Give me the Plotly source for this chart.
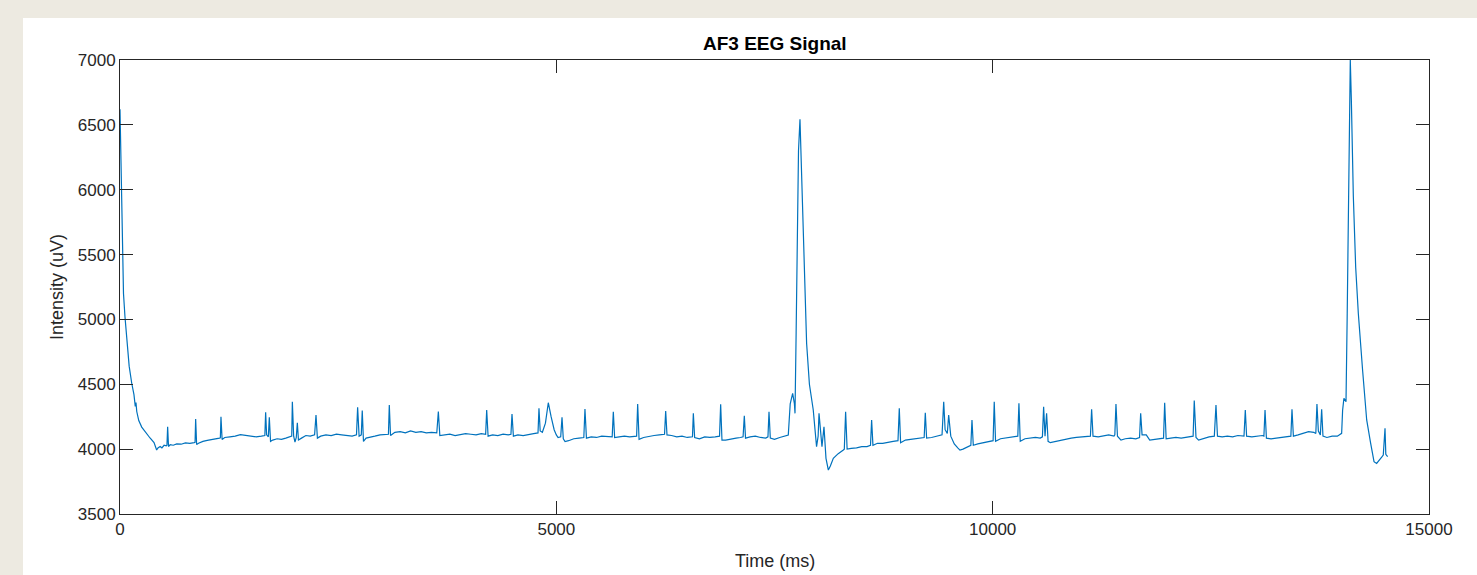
import plotly.graph_objects as go

# --- Data ---
time_ms = [
    0, 8, 16, 25, 40, 57, 80, 105, 134, 160, 175, 183, 192, 215, 249, 290, 344, 390, 420, 435, 460, 480, 505, 530,
    538, 546, 556, 575, 610, 650, 700, 750, 800, 850,
    860, 867, 878, 900, 950, 1000, 1050, 1100, 1140,
    1150, 1157, 1170, 1200, 1260, 1320, 1380, 1440, 1500, 1560, 1620, 1660,
    1669, 1680, 1700, 1711, 1725, 1750, 1800, 1850, 1900, 1950, 1968,
    1975, 1990, 2005, 2020, 2032, 2045, 2080, 2130, 2180, 2230, 2246, 2262, 2300, 2360, 2420, 2480, 2540, 2600, 2660, 2710,
    2723, 2740, 2765, 2776, 2790, 2820, 2870, 2920, 2980, 3040, 3076, 3086, 3100, 3150, 3210, 3270, 3330, 3390, 3450, 3510,
    3570, 3630, 3648, 3665, 3720, 3780, 3840, 3900, 3960, 4020, 4080, 4140, 4190, 4202, 4218, 4270, 4330, 4390, 4450, 4480,
    4492, 4508, 4560, 4620, 4680, 4740, 4790, 4801, 4815, 4840, 4875, 4908, 4940, 4975, 5000, 5020, 5050, 5065, 5080, 5100,
    5140, 5200, 5260, 5315, 5328, 5345, 5400, 5460, 5520, 5580, 5640, 5653, 5668, 5720, 5780, 5840, 5900, 5920, 5932, 5948,
    6000, 6060, 6120, 6180, 6240, 6253, 6268, 6320, 6380, 6440, 6500, 6560, 6570, 6585, 6640, 6700, 6760, 6820, 6870, 6883,
    6898, 6940, 7000, 7060, 7110, 7140, 7154, 7168, 7220, 7280, 7340, 7400, 7425, 7437, 7452, 7500, 7560, 7620, 7658, 7680,
    7708, 7728, 7735, 7748, 7761, 7775, 7792, 7810, 7830, 7850, 7868, 7900, 7944, 7982, 8000, 8010, 8025, 8044, 8067, 8080,
    8090, 8117, 8140, 8174, 8230, 8289, 8300, 8315, 8332, 8380, 8440, 8500, 8560, 8600, 8613, 8628, 8680, 8740, 8800, 8860,
    8915, 8930, 8945, 9000, 9060, 9120, 9180, 9215, 9228, 9243, 9300, 9360, 9420, 9439, 9455, 9480, 9496, 9520, 9560, 9600,
    9625, 9660, 9710, 9750, 9763, 9778, 9830, 9890, 9950, 10005, 10018, 10033, 10090, 10150, 10210, 10270, 10288, 10301, 10316, 10370,
    10430, 10490, 10545, 10570, 10584, 10600, 10618, 10635, 10660, 10720, 10780, 10840, 10900, 10960, 11020, 11080, 11120, 11134, 11150, 11210,
    11270, 11330, 11390, 11400, 11413, 11430, 11470, 11520, 11580, 11640, 11683, 11696, 11712, 11760, 11800, 11860, 11920, 11958, 11971, 11988,
    12040, 12100, 12160, 12220, 12280, 12297, 12310, 12330, 12360, 12420, 12480, 12540, 12559, 12576, 12630, 12690, 12750, 12810, 12880, 12895,
    12910, 12970, 13030, 13090, 13108, 13121, 13137, 13190, 13250, 13310, 13380, 13417, 13430, 13446, 13500, 13560, 13620, 13680, 13703, 13716,
    13732, 13755, 13770, 13785, 13830, 13890, 13950, 13999, 14010, 14025, 14049, 14062, 14075, 14088, 14098, 14110, 14133, 14160, 14190, 14240,
    14286, 14330, 14370, 14400, 14430, 14460, 14476, 14496, 14505, 14526,
]
intensity_uv = [
    6620, 6300, 5900, 5500, 5200, 5020, 4800, 4640, 4510, 4420, 4330, 4360, 4290, 4220, 4170, 4130, 4086, 4050, 3993, 4009, 4020, 4010, 4030, 4025,
    4030, 4173, 4020, 4035, 4030, 4040, 4038, 4048, 4045, 4050,
    4052, 4232, 4035, 4045, 4060, 4068, 4072, 4080, 4085,
    4088, 4250, 4075, 4090, 4095, 4100, 4112, 4105, 4100, 4095, 4100, 4105,
    4284, 4110, 4095, 4245, 4060, 4070, 4080, 4075, 4085, 4095, 4100,
    4366, 4100, 4055, 4090, 4204, 4070, 4085, 4105, 4100, 4110, 4263, 4085, 4100, 4110, 4105, 4115, 4110, 4105, 4100, 4110,
    4323, 4100, 4110, 4297, 4060, 4085, 4095, 4100, 4110, 4115, 4115, 4340, 4105, 4130, 4135, 4125, 4140, 4130, 4135, 4125,
    4130, 4125, 4289, 4105, 4110, 4115, 4105, 4110, 4120, 4115, 4110, 4120, 4115, 4302, 4100, 4110, 4105, 4115, 4110, 4115,
    4271, 4100, 4110, 4105, 4115, 4120, 4125, 4315, 4140, 4130, 4200, 4358, 4250, 4150, 4110, 4090, 4095, 4245, 4080, 4059,
    4065, 4080, 4085, 4090, 4310, 4085, 4095, 4090, 4100, 4095, 4095, 4289, 4090, 4095, 4100, 4095, 4100, 4100, 4348, 4075,
    4090, 4100, 4105, 4110, 4115, 4294, 4110, 4105, 4095, 4100, 4090, 4095, 4276, 4090, 4080, 4095, 4090, 4095, 4100, 4346,
    4070, 4070, 4080, 4085, 4090, 4095, 4258, 4085, 4095, 4100, 4090, 4085, 4095, 4289, 4085, 4075, 4090, 4100, 4109, 4350,
    4430, 4350, 4276, 4900, 5715, 6300, 6543, 6100, 5715, 5200, 4816, 4500, 4302, 4019, 4100, 4276, 4150, 4019, 4173, 4000,
    3929, 3839, 3870, 3929, 3965, 3993, 4000, 4289, 4000, 4006, 4010, 4020, 4020, 4030, 4225, 4030, 4045, 4045, 4055, 4060,
    4065, 4315, 4050, 4070, 4075, 4080, 4085, 4090, 4281, 4085, 4090, 4100, 4110, 4366, 4150, 4120, 4263, 4100, 4040, 4010,
    3993, 4000, 4020, 4030, 4225, 4030, 4040, 4050, 4060, 4065, 4366, 4060, 4080, 4085, 4090, 4095, 4100, 4353, 4060, 4080,
    4085, 4090, 4085, 4095, 4327, 4100, 4276, 4060, 4050, 4060, 4070, 4075, 4085, 4090, 4095, 4095, 4100, 4307, 4100, 4095,
    4100, 4110, 4100, 4110, 4348, 4100, 4070, 4080, 4085, 4080, 4090, 4276, 4110, 4110, 4070, 4075, 4080, 4085, 4358, 4080,
    4085, 4090, 4085, 4090, 4095, 4100, 4374, 4090, 4070, 4085, 4095, 4100, 4340, 4100, 4095, 4100, 4095, 4105, 4100, 4302,
    4100, 4095, 4100, 4105, 4100, 4302, 4085, 4080, 4085, 4090, 4095, 4100, 4307, 4100, 4110, 4120, 4135, 4130, 4120, 4348,
    4140, 4110, 4307, 4100, 4090, 4100, 4100, 4122, 4300, 4392, 4366, 5000, 5947, 6700, 7000, 6700, 5947, 5400, 5047, 4600,
    4225, 4050, 3903, 3890, 3920, 3940, 3955, 4161, 3960, 3942,
]

x_ticks = [0, 5000, 10000, 15000]
y_ticks = [3500, 4000, 4500, 5000, 5500, 6000, 6500, 7000]

title_text = "AF3 EEG Signal"
x_label = "Time (ms)"
y_label = "Intensity (uV)"

FONT = "Liberation Sans, Arial, Helvetica, sans-serif"
AXCOL = "#262626"

fig = go.Figure()
fig.add_trace(go.Scatter(
    x=time_ms, y=intensity_uv, mode="lines",
    line=dict(color="#0072BD", width=1.2),
    showlegend=False, hoverinfo="x+y",
))

L, R, T, B = 120, 48, 60, 61
W, H = 1477, 575
pw, ph = W - L - R, H - T - B

def px_x(px):
    return (px - L) / pw

def px_y(py):
    return (H - B - py) / ph

axis_common = dict(
    showline=True, linecolor=AXCOL, linewidth=1, mirror="ticks",
    ticks="inside", ticklen=13, tickwidth=1, tickcolor=AXCOL,
    showgrid=False, zeroline=False,
    tickfont=dict(family=FONT, size=17, color=AXCOL),
)

fig.update_layout(
    width=W, height=H,
    margin=dict(l=L, r=R, t=T, b=B, pad=0),
    paper_bgcolor="#edeae1",
    plot_bgcolor="white",
    xaxis=dict(range=[0, 15000], tickvals=x_ticks, ticktext=[str(v) for v in x_ticks], **axis_common),
    yaxis=dict(range=[3500, 7000], tickvals=y_ticks, ticktext=[str(v) for v in y_ticks], **axis_common),
    shapes=[dict(
        type="rect", xref="paper", yref="paper", layer="below",
        x0=px_x(23), x1=px_x(1490), y0=px_y(590), y1=px_y(18),
        fillcolor="white", line=dict(width=0),
    )],
    annotations=[
        dict(text="<b>" + title_text + "</b>", xref="paper", yref="paper",
             x=0.5, y=px_y(44), xanchor="center", yanchor="middle", showarrow=False,
             font=dict(family=FONT, size=19, color="black")),
        dict(text=x_label, xref="paper", yref="paper",
             x=0.5, y=px_y(561), xanchor="center", yanchor="middle", showarrow=False,
             font=dict(family=FONT, size=18, color=AXCOL)),
        dict(text=y_label, xref="paper", yref="paper", textangle=-90,
             x=px_x(57), y=0.5, xanchor="center", yanchor="middle", showarrow=False,
             font=dict(family=FONT, size=18, color=AXCOL)),
    ],
)

fig.write_html(
    "out.html",
    config={"displayModeBar": False},
    post_script="document.body.style.margin='0';document.body.style.overflow='hidden';",
)
